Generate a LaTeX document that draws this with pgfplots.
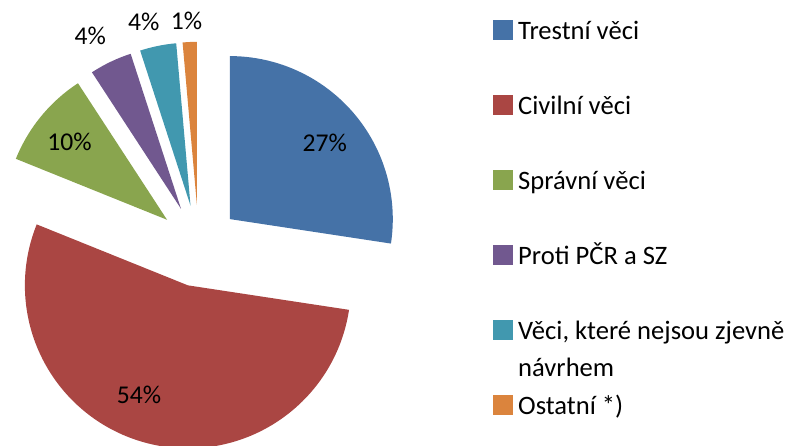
\documentclass[border=0pt]{standalone}
\usepackage{fontspec}
\setmainfont{Carlito}
\usepackage{pgfplots}
\usepackage{pgfplotstable}
\pgfplotsset{compat=1.18}
\definecolor{slice0}{RGB}{69,114,167}
\definecolor{slice1}{RGB}{170,70,67}
\definecolor{slice2}{RGB}{137,165,78}
\definecolor{slice3}{RGB}{113,88,143}
\definecolor{slice4}{RGB}{65,152,175}
\definecolor{slice5}{RGB}{219,132,61}
\newcommand\labfont{\fontsize{12.8}{15}\selectfont}

% val = share in %, loff = label angle offset (deg), ld = label distance (px)
\pgfplotstableread{
val loff ld
27.4 -1.8 122
53.7 -8.7 120
9.7 0.7 125
4.2 2.2 195
3.6 2.7 190
1.4 0.7 184
}\piedata
\pgfplotstablecreatecol[create col/expr accum={\pgfmathaccuma + \thisrow{val}}{0}]{cum}{\piedata}

\begin{document}
\begin{tikzpicture}
\useasboundingbox (0,0) rectangle (395pt,222.5pt);
\begin{axis}[hide axis, scale only axis, width=395pt, height=222.5pt,
  at={(0,0)}, anchor=south west,
  xmin=0, xmax=790, ymin=0, ymax=445,
  legend cell align=left,
  legend image code/.code={\fill[#1] (0pt,-0.2pt) rectangle (10pt,9.8pt);},
  legend style={at={(0.6235,0.9611)}, anchor=north west, draw=none, fill=none,
    inner sep=0pt, outer sep=0pt, font=\fontsize{13.3}{16.7}\selectfont,
    row sep=23.5pt, column sep=2.8pt,
    nodes={inner sep=0pt, text height=11pt, text depth=3pt, anchor=base west}},
]
\pgfplotsinvokeforeach{0,...,5}{
  \pgfplotstablegetelem{#1}{val}\of\piedata \let\pv\pgfplotsretval
  \pgfplotstablegetelem{#1}{cum}\of\piedata \let\pc\pgfplotsretval
  \pgfplotstablegetelem{#1}{loff}\of\piedata \let\plo\pgfplotsretval
  \pgfplotstablegetelem{#1}{ld}\of\piedata \let\pld\pgfplotsretval
  \pgfmathsetmacro\aS{90-3.6*(\pc-\pv)}
  \pgfmathsetmacro\aE{90-3.6*\pc}
  \pgfmathsetmacro\aM{(\aS+\aE)/2}
  \pgfmathsetmacro\aL{\aM+\plo}
  \pgfmathsetmacro\lx{20.5*cos(\aM)+0.5*\pld*cos(\aL)}
  \pgfmathsetmacro\ly{20.5*sin(\aM)+0.5*\pld*sin(\aL)}
  \pgfmathtruncatemacro\lab{round(\pv)}
  \edef\doit{%
    \noexpand\fill[slice#1] ([shift={(\aM:20.5pt)}]axis cs:198.7,199.2) -- ++(\aS:81.5pt)
      arc[start angle=\aS, end angle=\aE, radius=81.5pt] -- cycle;
    \noexpand\node[font=\noexpand\labfont, text=black, inner sep=0pt] at ([shift={(\lx pt,\ly pt)}]axis cs:198.7,199.2) {\lab\noexpand\%};
  }\doit
}
\addlegendimage{fill=slice0, draw=none}
\addlegendentry{Trestní věci}
\addlegendimage{fill=slice1, draw=none}
\addlegendentry{Civilní věci}
\addlegendimage{fill=slice2, draw=none}
\addlegendentry{Správní věci}
\addlegendimage{fill=slice3, draw=none}
\addlegendentry{Proti PČR a SZ}
\addlegendimage{fill=slice4, draw=none}
\addlegendentry{\smash{\begin{tabular}[t]{@{}l@{}}Věci, které nejsou zjevně\\[1.8pt] návrhem\end{tabular}}}
\addlegendimage{fill=slice5, draw=none}
\addlegendentry{Ostatní *)}
\end{axis}
\end{tikzpicture}
\end{document}
